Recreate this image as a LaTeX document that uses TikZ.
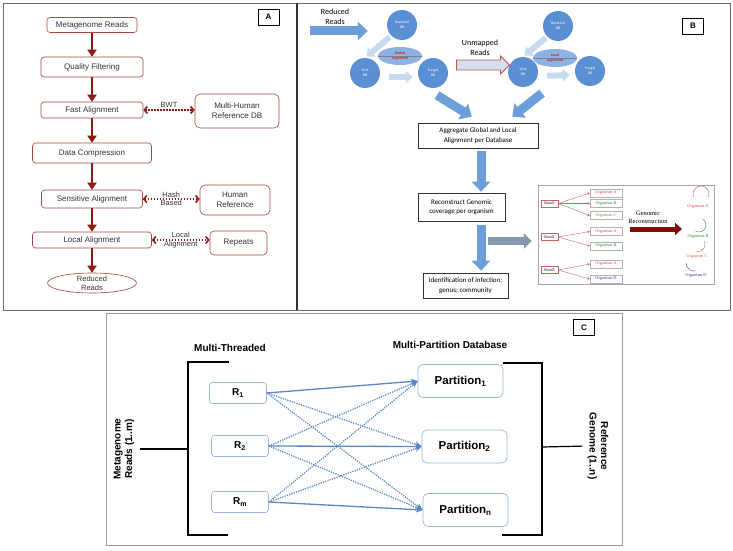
\documentclass[tikz,border=0pt]{standalone}
\usepackage{fontspec}
\setmainfont{Liberation Sans}
\newfontfamily\calfont{Carlito}
\newfontfamily\serfont{Liberation Serif}
\usepackage{tikz}
\usetikzlibrary{arrows.meta}
\usetikzlibrary{shapes.geometric}
\usetikzlibrary{shapes.arrows}

\definecolor{framegray}{HTML}{6E6E6E}
\definecolor{boxred}{HTML}{A8463F}
\definecolor{arrred}{HTML}{8C1C13}
\definecolor{textgray}{HTML}{333333}
\definecolor{dbblue}{HTML}{5B8FD4}
\definecolor{alnblue}{HTML}{8DB1E2}
\definecolor{alnred}{HTML}{C0202A}
\definecolor{paleblue}{HTML}{C8DAF0}
\definecolor{fatblue}{HTML}{6C9EDA}
\definecolor{unmapfill}{HTML}{D3DFEE}
\definecolor{unmapred}{HTML}{C0504D}
\definecolor{grayarr}{HTML}{8797AE}
\definecolor{readred}{HTML}{C4646A}
\definecolor{orgred}{HTML}{E0404A}
\definecolor{orggreen}{HTML}{2E8A3A}
\definecolor{orgbrown}{HTML}{A8782E}
\definecolor{orgblue}{HTML}{3030C8}
\definecolor{recred}{HTML}{800C0C}
\definecolor{cblue}{HTML}{5A87C2}
\definecolor{cboxblue}{HTML}{9AB8DE}

\tikzstyle{panel}=[draw=framegray, line width=0.8pt]
\tikzstyle{divider}=[draw=black!80, line width=1.6pt]
\tikzstyle{tag}=[rectangle, draw=black, line width=0.6pt, fill=white, font=\bfseries\fontsize{8}{8}\selectfont, minimum width=21pt, minimum height=16pt, inner sep=0pt]
\tikzstyle{stepA}=[rectangle, rounded corners=3pt, draw=boxred, line width=0.6pt, fill=white, text=textgray, font=\fontsize{8}{10}\selectfont, align=center, inner sep=0pt]
\tikzstyle{endA}=[ellipse, draw=boxred, line width=0.6pt, fill=white, text=textgray, font=\fontsize{7.5}{9}\selectfont, align=center, inner xsep=0pt, inner ysep=-4pt]
\tikzstyle{flow}=[line width=1.8pt, draw=arrred, -{Triangle[length=7pt,width=9pt]}]
\tikzstyle{lookup}=[line width=1.6pt, draw=arrred, dash pattern=on 1.6pt off 1.4pt, {Straight Barb[length=3pt,width=7pt]}-{Straight Barb[length=3pt,width=7pt]}]
\tikzstyle{lookupLabel}=[midway, inner sep=0pt, align=center, text=textgray, font=\fontsize{7.5}{8.5}\selectfont]
\tikzstyle{db}=[circle, fill=dbblue, minimum size=30pt, inner sep=0pt, text=white, font=\calfont\fontsize{3.8}{5}\selectfont, align=center]
\tikzstyle{aln}=[ellipse, fill=alnblue, minimum width=44pt, minimum height=18pt, inner sep=0pt, text=alnred, font=\calfont\bfseries\fontsize{3.8}{4.2}\selectfont, align=center]
\tikzstyle{fat}=[line width=9pt, draw=fatblue, -{Triangle[length=10pt,width=18pt]}]
\tikzstyle{pale}=[line width=6pt, draw=paleblue, -{Triangle[length=7pt,width=12pt]}]
\tikzstyle{note}=[font=\calfont\fontsize{8}{9.5}\selectfont, align=center, inner sep=0pt]
\tikzstyle{stepB}=[rectangle, draw=black!80, line width=0.6pt, fill=white, font=\calfont\fontsize{7}{9.5}\selectfont, align=center, inner sep=0pt]
\tikzstyle{readbox}=[rectangle, draw=readred, line width=0.4pt, fill=white, font=\serfont\fontsize{4}{4}\selectfont, minimum width=17pt, minimum height=7pt, inner sep=0pt]
\tikzstyle{orgbox}=[rectangle, draw=gray!60, line width=0.4pt, fill=white, font=\serfont\fontsize{4.3}{4.3}\selectfont, minimum width=32pt, minimum height=8pt, inner sep=0pt]
\tikzstyle{hit}=[draw=readred, line width=0.4pt, -{Stealth[length=2.5pt,width=2.5pt]}]
\tikzstyle{orglbl}=[font=\serfont\fontsize{4.3}{4.3}\selectfont, inner sep=0pt]
\tikzstyle{thread}=[rectangle, rounded corners=3pt, draw=cboxblue, line width=0.7pt, fill=white, font=\bfseries\fontsize{10}{10}\selectfont, minimum width=57pt, minimum height=21pt, inner sep=0pt]
\tikzstyle{part}=[rectangle, rounded corners=5pt, draw=cboxblue, line width=0.7pt, fill=white, font=\bfseries\fontsize{11.5}{12}\selectfont, minimum width=85pt, minimum height=33pt, inner sep=0pt]
\tikzstyle{direct}=[line width=1.3pt, draw=cblue, -{Stealth[length=7pt,width=6pt]}]
\tikzstyle{cross}=[line width=1.3pt, draw=cblue, dash pattern=on 1.2pt off 1.2pt, -{Stealth[length=7pt,width=6pt]}]
\tikzstyle{bracket}=[line width=1.2pt, draw=black]
\tikzstyle{side}=[font=\bfseries\fontsize{10}{11.5}\selectfont, align=center, inner sep=0pt]
\tikzstyle{heading}=[font=\bfseries\fontsize{10}{10}\selectfont, inner sep=0pt]

\newcommand{\colA}{92}

\begin{document}
\begin{tikzpicture}[x=1pt, y=-1pt]
	\useasboundingbox (0,0) rectangle (733,551);

	%The panel frames
	\draw[panel] (3,3) rectangle (730,310);
	\draw[divider] (297,3) -- (297,310);
	\draw[panel, draw=framegray!70] (106,313) rectangle (622,545);

	%Panel A: the pipeline
	\draw (268.5,17) node[tag] (tagA) {A};
	\draw (\colA,25) node[stepA, minimum width=90pt, minimum height=15pt] (meta) {Metagenome Reads};
	\draw (\colA,67) node[stepA, minimum width=102pt, minimum height=20pt] (qual) {Quality Filtering};
	\draw (\colA,110) node[stepA, minimum width=102pt, minimum height=16pt] (fast) {Fast Alignment};
	\draw (\colA,153) node[stepA, minimum width=119pt, minimum height=20pt] (comp) {Data Compression};
	\draw (\colA,199) node[stepA, minimum width=101pt, minimum height=18pt] (sens) {Sensitive Alignment};
	\draw (\colA,240) node[stepA, minimum width=119pt, minimum height=16pt] (loc) {Local Alignment};
	\draw (\colA,283) node[endA, minimum width=89pt, minimum height=20pt] (red) {Reduced\\Reads};

	\draw[flow] (meta) -- (qual);
	\draw[flow] (qual) -- (fast);
	\draw[flow] (fast) -- (comp);
	\draw[flow] (comp) -- (sens);
	\draw[flow] (sens) -- (loc);
	\draw[flow] (loc) -- (red);

	%Panel A: the references
	\draw (237,111) node[stepA, rounded corners=5pt, minimum width=84pt, minimum height=34pt] (mhref) {Multi-Human\\Reference DB};
	\draw (235,200) node[stepA, rounded corners=5pt, minimum width=70pt, minimum height=30pt] (href) {Human\\Reference};
	\draw (238.5,243) node[stepA, rounded corners=4pt, minimum width=57pt, minimum height=24pt] (rep) {Repeats};

	\draw[lookup] (fast) -- (mhref.west |- fast) node[lookupLabel, yshift=5pt] {BWT};
	\draw[lookup] (sens) -- (href.west |- sens) node[lookupLabel] {Hash\\Based};
	\draw[lookup] (loc) -- (rep.west |- loc) node[lookupLabel] {Local\\Alignment};

	%Panel B: global alignment
	\draw (693,26) node[tag] (tagB) {B};
	\draw (335,17) node[note] (rrtxt) {Reduced\\Reads};
	\coordinate (rrin) at (310,31);
	\draw (402,25) node[db] (bac1) {Bacterial\\DB};
	\draw (365,73) node[db] (vir1) {Viral\\DB};
	\draw (433,73) node[db] (fun1) {Fungal\\DB};
	\draw (400,56) node[aln] (glob) {Global\\Alignment};
	\draw[gray, line width=0.6pt] (glob.west) -- (glob.east);
	\draw[fat, shorten >=19pt] (rrin) -- (rrin -| bac1.west);
	\draw[pale, shorten <=2pt, shorten >=2pt] (bac1.225) -- (vir1.north);
	\draw[pale, shorten <=9pt, shorten >=5pt] ([yshift=-4pt]vir1.east) -- ([yshift=-4pt]fun1.west);

	%Panel B: local alignment
	\draw (480,48) node[note] (umtxt) {Unmapped\\Reads};
	\draw (523,72) node[db] (vir2) {Viral\\DB};
	\draw (558,26) node[db] (bac2) {Bacterial\\DB};
	\draw (590,71) node[db] (fun2) {Fungal\\DB};
	\draw (555,58) node[aln] (locl) {Local\\Alignment};
	\draw[gray, line width=0.6pt] (locl.west) -- (locl.east);
	\draw (480.5,65) node[single arrow, draw=unmapred, line width=0.8pt, fill=unmapfill, minimum height=53pt, minimum width=17pt, single arrow head extend=4pt, inner xsep=0pt, inner ysep=4.5pt] (unmap) {};
	\draw[pale, shorten <=2pt, shorten >=2pt] (bac2.225) -- (vir2.north);
	\draw[pale, shorten <=9pt, shorten >=5pt] ([yshift=-4pt]vir2.east) -- ([yshift=-4pt]fun2.west);

	%Panel B: aggregation and reconstruction
	\draw (478,135.5) node[stepB, minimum width=120pt, minimum height=25pt] (agg) {Aggregate Global and Local\\Alignment per Database};
	\draw (461.5,207) node[stepB, minimum width=87pt, minimum height=28pt] (recon) {Reconstruct Genomic\\coverage per organism};
	\draw (465.5,285.5) node[stepB, minimum width=85pt, minimum height=25pt] (ident) {Identification of infection;\\genus; community};
	\draw[fat] ([xshift=4pt,yshift=-7pt]fun1.south) -- ([xshift=54pt,yshift=6pt]agg.north west);
	\draw[fat] ([xshift=19pt,yshift=-6pt]vir2.south) -- ([xshift=-26pt,yshift=6pt]agg.north east);
	\draw[fat, shorten <=3pt, shorten >=1pt] ([xshift=3pt]agg.south) -- ([xshift=3pt]agg.south |- recon.north);
	\draw[fat, shorten <=4pt, shorten >=2pt] ([xshift=3pt]agg.south |- recon.south) -- ([xshift=3pt]agg.south |- ident.north);

	%The organism figure
	\draw (626,234.5) node[rectangle, draw=gray!70, line width=0.5pt, minimum width=176pt, minimum height=99pt] (orgfig) {};
	\coordinate (gin) at (488,241);
	\draw[line width=8pt, draw=grayarr, -{Triangle[length=8pt,width=15pt]}, shorten >=6pt] (gin) -- (orgfig.west |- gin);

	\draw (549.5,203.5) node[readbox] (read1) {Read1};
	\draw (549.5,237) node[readbox] (read2) {Read2};
	\draw (549.5,270) node[readbox] (read3) {Read3};
	\draw (606,193) node[orgbox, text=orgred] (oA1) {Organism A};
	\draw (606,203.5) node[orgbox, text=orggreen] (oB1) {Organism B};
	\draw (606,215.5) node[orgbox, text=orgbrown] (oC1) {Organism C};
	\draw (606,231.5) node[orgbox, text=orgred] (oA2) {Organism A};
	\draw (606,246) node[orgbox, text=orggreen] (oB2) {Organism B};
	\draw (606,264) node[orgbox, text=orgred] (oA3) {Organism A};
	\draw (606,279) node[orgbox, text=orgblue] (oD3) {Organism D};
	\draw[hit] (read1.east) -- (oA1.west);
	\draw[hit] (read1.east) -- (oB1.west);
	\draw[hit] (read1.east) -- (oC1.west);
	\draw[hit] (read2.east) -- (oA2.west);
	\draw[hit] (read2.east) -- (oB2.west);
	\draw[hit] (read3.east) -- (oA3.west);
	\draw[hit] (read3.east) -- (oD3.west);

	\draw (648,217) node[font=\serfont\fontsize{6.5}{8}\selectfont, align=center, inner sep=0pt] (gentxt) {Genomic\\Reconstruction};
	\coordinate (recin) at (630,229);
	\coordinate (recout) at (682,229);
	\draw[line width=5pt, draw=recred, -{Triangle[length=7pt,width=12pt]}] (recin) -- (recout);

	\draw (698,207) node[orglbl, text=orgred] (lblA) {Organism A};
	\draw (698,237) node[orglbl, text=orggreen] (lblB) {Organism B};
	\draw (697,257) node[orglbl, text=orgbrown] (lblC) {Organism C};
	\draw (696,276) node[orglbl, text=orgblue] (lblD) {Organism D};
	\draw[orgred, line width=0.4pt] (701,194) ++(160:8) arc (160:380:8);
	\draw[orggreen, line width=0.4pt] (699,225) ++(-60:7) arc (-60:120:7);
	\draw[orgbrown, line width=0.4pt] (697,244) ++(-20:8) arc (-20:100:8);
	\draw[orgblue, line width=0.4pt] (694,263) ++(180:8) arc (180:80:8);

	%Panel C: partitioned search
	\draw (584,327.5) node[tag] (tagC) {C};
	\draw (230,348) node[heading] (mthr) {Multi-Threaded};
	\draw (450,345) node[heading] (mpart) {Multi-Partition Database};

	\draw (238,393) node[thread] (r1) {R\textsubscript{1}};
	\draw (240,446) node[thread] (r2) {R\textsubscript{2}};
	\draw (240,502) node[thread] (rm) {R\textsubscript{m}};
	\draw (460.5,381) node[part] (p1) {Partition\textsubscript{1}};
	\draw (464.5,446.5) node[part] (p2) {Partition\textsubscript{2}};
	\draw (465.5,510) node[part] (pn) {Partition\textsubscript{n}};

	\draw[direct] (r1.east) -- (p1.west);
	\draw[direct] (r2.east) -- (p2.west);
	\draw[direct] (rm.east) -- (pn.west);
	\draw[cross] (r1.east) -- (p2.west);
	\draw[cross] (r1.east) -- (pn.west);
	\draw[cross] (r2.east) -- (p1.west);
	\draw[cross] (r2.east) -- (pn.west);
	\draw[cross] (rm.east) -- (p1.west);
	\draw[cross] (rm.east) -- (p2.west);

	%The brackets
	\draw[bracket] (229,362) -| (188,535) -- (228,535);
	\draw[bracket] (503,363) -| (542,535) -- (502,535);
	\coordinate (lmid) at (188,449);
	\coordinate (rmid) at (542,447);
	\draw (124,449) node[side, rotate=90] (metaC) {Metagenome\\Reads (1..m)};
	\draw (598,446) node[side, rotate=-90] (refC) {Reference\\Genome (1..n)};
	\draw[bracket, shorten >=6pt] (lmid) -- (metaC.south);
	\draw[bracket, shorten >=5pt] (rmid) -- (refC.south);
\end{tikzpicture}
\end{document}
